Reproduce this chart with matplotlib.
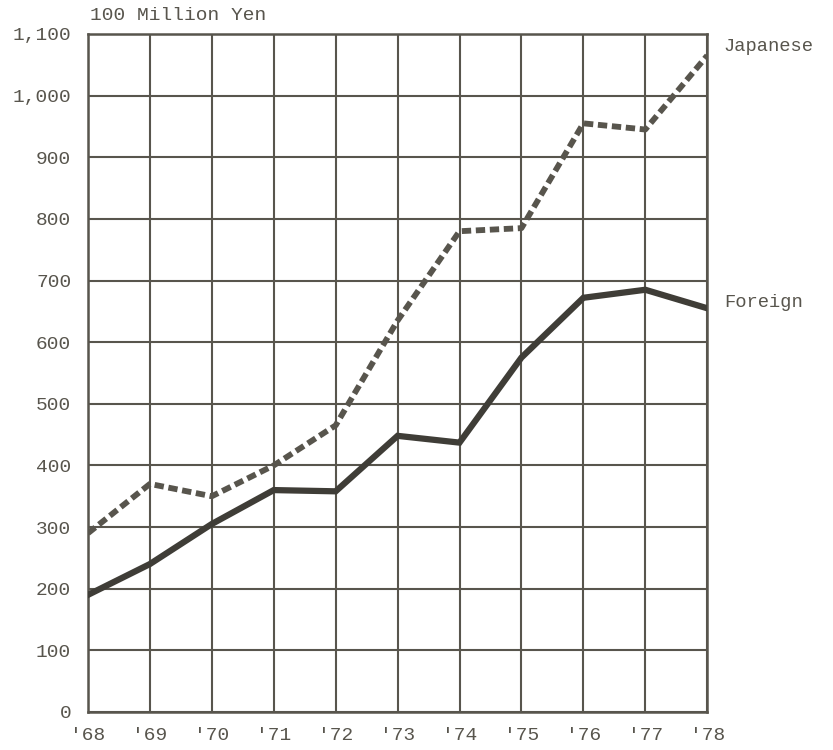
import matplotlib.pyplot as plt
import numpy as np

# data (100 million yen)
years = ["'68", "'69", "'70", "'71", "'72", "'73", "'74", "'75", "'76", "'77", "'78"]
japanese = [290, 370, 350, 400, 465, 635, 780, 785, 955, 945, 1065]
foreign = [190, 240, 305, 360, 358, 448, 437, 575, 672, 685, 655]
y_ticks = [0, 100, 200, 300, 400, 500, 600, 700, 800, 900, 1000, 1100]
y_labels = ["0", "100", "200", "300", "400", "500", "600", "700", "800", "900", "1,000", "1,100"]

ink = "#58554d"
font = "Liberation Mono"

fig = plt.figure(figsize=(8.33, 7.5), dpi=100)
ax = fig.add_axes([0.1056, 0.0507, 0.7434, 0.904])

x = np.arange(len(years))
ax.plot(x, japanese, color=ink, lw=4.2, linestyle=(0, (1.6, 0.8)), solid_capstyle="butt", zorder=3)
ax.plot(x, foreign, color="#3f3d37", lw=4.5, solid_joinstyle="miter", zorder=3)

ax.set_xlim(0, len(years) - 1)
ax.set_ylim(0, 1100)
ax.set_xticks(x)
ax.set_xticklabels(years, fontfamily=font, fontsize=14, color=ink)
ax.set_yticks(y_ticks)
ax.set_yticklabels(y_labels, fontfamily=font, fontsize=14, color=ink)
ax.tick_params(length=0, pad=12)
ax.tick_params(axis="x", pad=11)
ax.grid(True, color=ink, lw=1.5)
ax.set_axisbelow(True)
for s in ax.spines.values():
    s.set_color(ink)
    s.set_linewidth(1.8)

fig.text(0.108, 0.979, "100 Million Yen", fontfamily=font, fontsize=14, color=ink, va="center")
ax.annotate("Japanese", xy=(1.0, 1065), xycoords=("axes fraction", "data"), xytext=(12, 6.5),
            textcoords="offset points", fontfamily=font, fontsize=13.5, color=ink, va="center")
ax.annotate("Foreign", xy=(1.0, 655), xycoords=("axes fraction", "data"), xytext=(12, 4.5),
            textcoords="offset points", fontfamily=font, fontsize=13.5, color=ink, va="center")

fig.savefig("out.png", dpi=100, facecolor="white")
